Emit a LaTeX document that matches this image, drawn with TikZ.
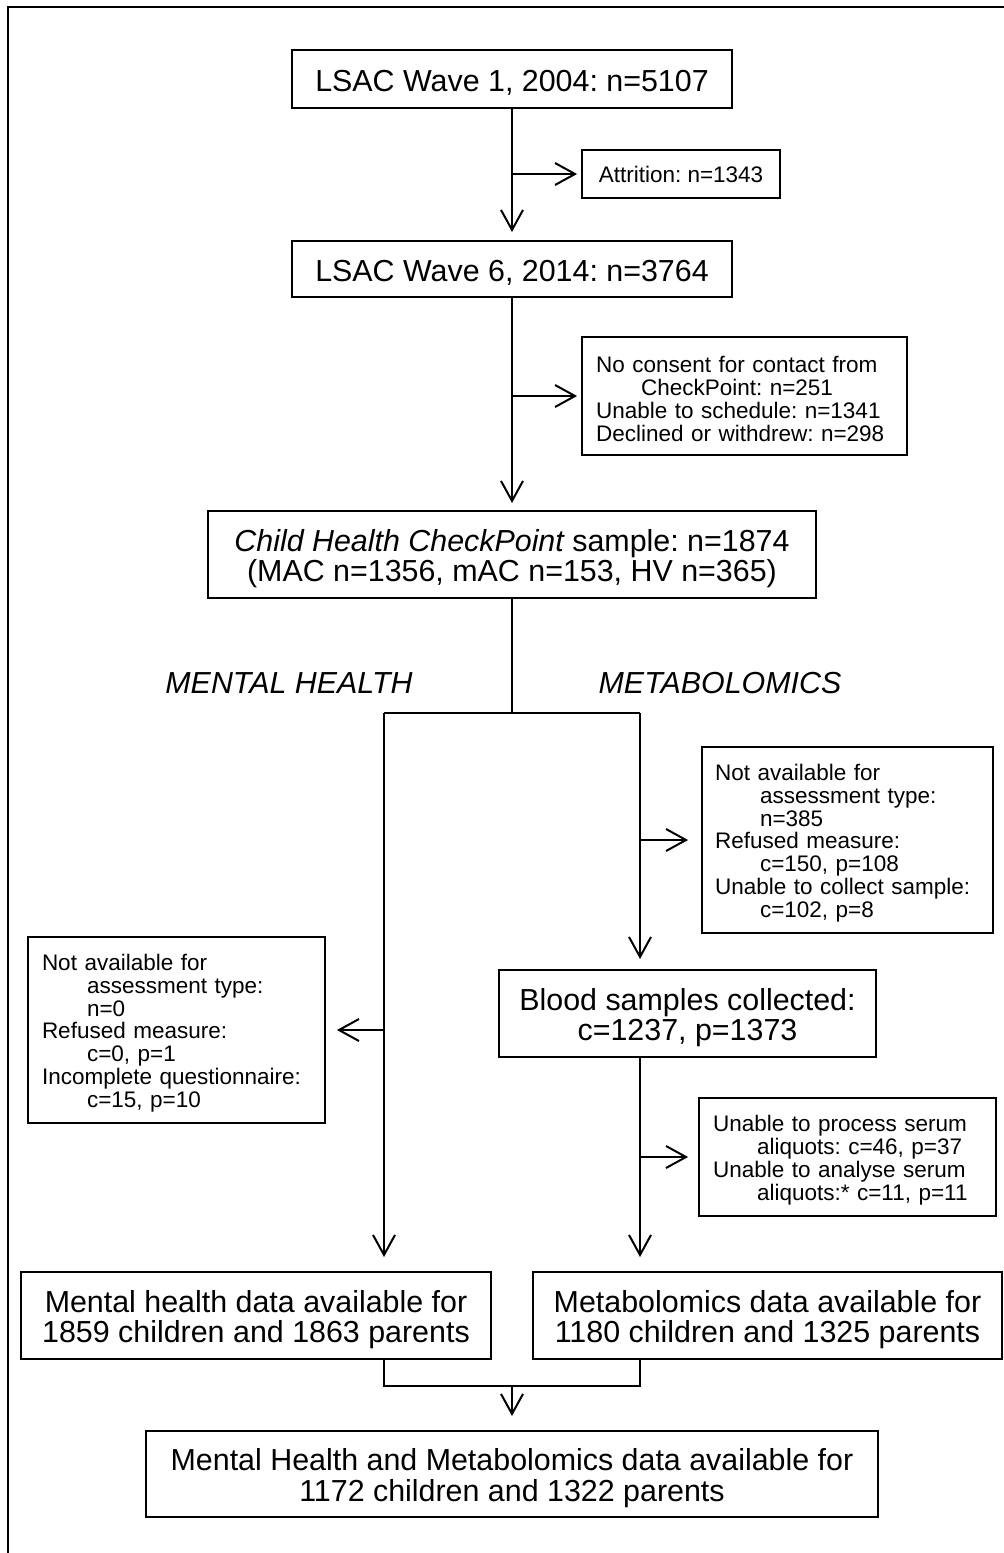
\documentclass[tikz,border=0pt]{standalone}
\usepackage{fontspec}
\setmainfont{Liberation Sans}
\usetikzlibrary{arrows.meta}
\newcommand{\tpa}{\rule{0pt}{29pt}}
\newcommand{\tpb}{\rule{0pt}{30pt}}
\newcommand{\tps}{\rule{0pt}{22.5pt}}
\begin{document}
\frenchspacing
\begin{tikzpicture}[x=1pt,y=-1pt,
  box/.style={draw, line width=2pt, inner sep=0pt, align=center, font=\fontsize{30.4}{30.5}\selectfont},
  sbox/.style={draw, line width=1.8pt, inner ysep=0pt, align=left, font=\fontsize{22.5}{22.8}\selectfont},
  conn/.style={line width=2pt},
  arr/.style={conn, -{Straight Barb[length=20pt,width=22pt,line width=2pt]}},
  lbl/.style={font=\fontsize{30.4}{30.5}\selectfont\itshape, inner sep=0pt}
]
\useasboundingbox (0,0) rectangle (1004,1553);
\draw[line width=2pt] (8,1553) -- (8,7) -- (1004,7);

% main column
\node[box, minimum width=440pt, minimum height=58pt] (w1) at (512,79) {\tpa LSAC Wave 1, 2004: n=5107};
\node[box, minimum width=440pt, minimum height=56pt] (w2) at (512,269) {\tpa LSAC Wave 6, 2014: n=3764};
\node[box, minimum width=608pt, minimum height=87pt] (chc) at (512,554.5) {\tpb{\itshape Child Health CheckPoint} sample: n=1874\\(MAC n=1356, mAC n=153, HV n=365)};

\node[sbox, inner xsep=14pt, minimum width=198pt, minimum height=48pt, align=center] (att) at (681,174) {Attrition: n=1343};
\node[sbox, inner xsep=14pt, text width=297pt, minimum height=118pt] (ex2) at (744.5,396) {\tps No consent for contact from\\\hspace*{45pt}CheckPoint: n=251\\Unable to schedule: n=1341\\Declined or withdrew: n=298};

\draw[arr] (w1.south) -- ([yshift=8pt]w2.north);
\draw[arr] (w1.south |- att.west) -- ([xshift=-4pt]att.west);
\draw[arr] (w2.south) -- ([yshift=7pt]chc.north);
\draw[arr] (w2.south |- ex2.west) -- ([xshift=-4pt]ex2.west);

% split
\coordinate (split) at (512,713);
\coordinate (L) at (384,713);
\coordinate (R) at (640,713);
\draw[conn] (chc.south) -- (split);
\draw[conn] (L) -- (R);
\node[lbl] (mhl) at (289,683) {MENTAL HEALTH};
\node[lbl] (mel) at (720,683) {METABOLOMICS};

% metabolomics branch
\node[sbox, inner xsep=13pt, text width=265pt, minimum height=186pt] (rx) at (847.5,840) {\tps Not available for\\\hspace*{45pt}assessment type:\\\hspace*{45pt}n=385\\Refused measure:\\\hspace*{45pt}c=150, p=108\\Unable to collect sample:\\\hspace*{45pt}c=102, p=8};
\node[box, minimum width=377pt, minimum height=87pt] (blood) at (687.5,1013.5) {\tpb Blood samples collected:\\c=1237, p=1373};
\node[sbox, inner xsep=14pt, text width=269pt, minimum height=118pt] (serum) at (847.5,1157) {\tps Unable to process serum\\\hspace*{44pt}aliquots: c=46, p=37\\Unable to analyse serum\\\hspace*{44pt}aliquots:* c=11, p=11};
\node[box, minimum width=469pt, minimum height=87pt] (meta) at (767.5,1315.5) {\tpb Metabolomics data available for\\1180 children and 1325 parents};

\coordinate (Rb) at (640,1057);
\draw[arr] (R) -- ([yshift=10pt]blood.north -| R);
\draw[arr] (R |- rx.west) -- ([xshift=-13pt]rx.west);
\draw[arr] (blood.south -| Rb) -- ([yshift=14pt]meta.north -| Rb);
\draw[arr] (Rb |- serum.west) -- ([xshift=-10pt]serum.west);

% mental health branch
\node[sbox, inner xsep=14pt, text width=269pt, minimum height=186pt] (lx) at (176.5,1030) {\tps Not available for\\\hspace*{45pt}assessment type:\\\hspace*{45pt}n=0\\Refused measure:\\\hspace*{45pt}c=0, p=1\\Incomplete questionnaire:\\\hspace*{45pt}c=15, p=10};
\node[box, minimum width=470pt, minimum height=87pt] (mh) at (256,1315.5) {\tpb Mental health data available for\\1859 children and 1863 parents};

\draw[arr] (L) -- ([yshift=14pt]mh.north -| L);
\draw[arr] (L |- lx.east) -- ([xshift=11pt]lx.east);

% join
\node[box, minimum width=732pt, minimum height=86pt] (fin) at (512,1474) {\tpb Mental Health and Metabolomics data available for\\1172 children and 1322 parents};
\coordinate (JL) at (384,1386);
\coordinate (JR) at (640,1386);
\coordinate (J) at (512,1386);
\draw[conn] (mh.south -| JL) -- (JL) -- (JR) -- (meta.south -| JR);
\draw[arr] (J) -- ([yshift=14pt]fin.north);
\end{tikzpicture}
\end{document}
